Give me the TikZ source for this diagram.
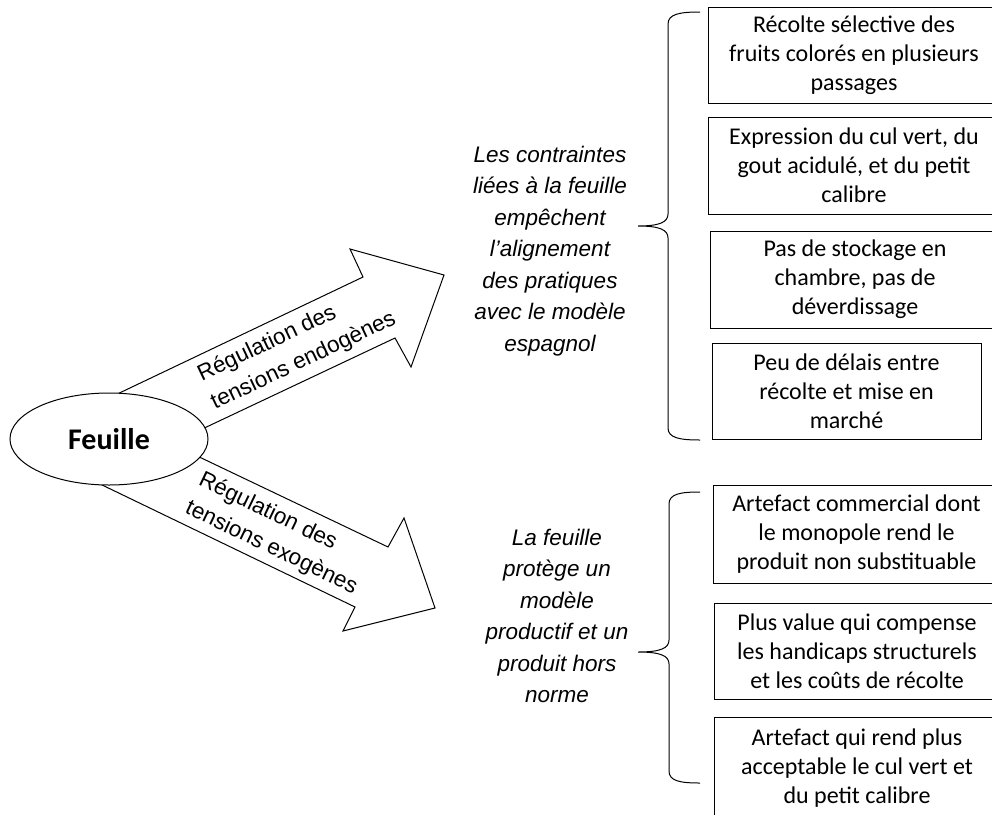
\documentclass[tikz,border=0pt]{standalone}
\usepackage{fontspec}
\usetikzlibrary{shapes.geometric}
\setmainfont{Carlito}
\newfontfamily\arialfont{Liberation Sans}
\begin{document}
\begin{tikzpicture}[x=1pt,y=-1pt, line width=1pt,
  box/.style={draw, rectangle, inner sep=0pt, align=center, font=\fontsize{24}{29}\selectfont},
  midtext/.style={align=center, inner sep=0pt, font=\arialfont\itshape\fontsize{22.5}{31.5}\selectfont},
  arrowtext/.style={align=left, inner sep=0pt, font=\arialfont\fontsize{22.5}{31}\selectfont},
  bigarrow/.style={draw, fill=white, line join=miter},
  bracestyle/.style={draw, line width=1pt}]
\clip (0,0) rectangle (992,814);
\fill[white] (0,0) rectangle (992,814);

% big arrows
\draw[bigarrow] (111,397) -- (363,277) -- (350,249) -- (444,275) -- (411,367) -- (395,338) -- (198,431) -- cycle;
\draw[bigarrow] (193,454) -- (388,547) -- (404,518) -- (435,608) -- (343,631) -- (355,607) -- (98,483) -- cycle;

% central ellipse
\node[draw, fill=white, ellipse, minimum width=198pt, minimum height=92pt, inner sep=0pt,
      font=\bfseries\fontsize{30}{36}\selectfont] (feuille) at (109,439) {Feuille};

% arrow labels
\node[arrowtext, rotate=25.4] (endo) at (297,347) {Régulation des\\tensions endogènes};
\node[arrowtext, rotate=-25.6] (exo) at (278,534) {Régulation des\\tensions exogènes};

% middle texts
\node[midtext] (m1) at (550,251) {Les contraintes\\liées à la feuille\\empêchent\\l’alignement\\des pratiques\\avec le modèle\\espagnol};
\node[midtext] (m2) at (557,616) {La feuille\\protège un\\modèle\\productif et un\\produit hors\\norme};

% boxes
\node[box, minimum width=292pt, minimum height=96pt] (b1) at (854,55) {Récolte sélective des\\fruits colorés en plusieurs\\passages};
\node[box, minimum width=292pt, minimum height=97pt] (b2) at (854,165.5) {Expression du cul vert, du\\gout acidulé, et du petit\\calibre};
\node[box, minimum width=290pt, minimum height=97pt] (b3) at (855,279.5) {Pas de stockage en\\chambre, pas de\\déverdissage};
\node[box, minimum width=269pt, minimum height=96pt] (b4) at (846.5,391) {Peu de délais entre\\récolte et mise en\\marché};
\node[box, minimum width=287pt, minimum height=98pt] (b5) at (856.5,534) {Artefact commercial dont\\le monopole rend le\\produit non substituable};
\node[box, minimum width=286pt, minimum height=96pt] (b6) at (857,651) {Plus value qui compense\\les handicaps structurels\\et les coûts de récolte};
\node[box, minimum width=286pt, minimum height=102pt] (b7) at (857,768) {Artefact qui rend plus\\acceptable le cul vert et\\du petit calibre};

% braces
\coordinate (t1) at (638,226);
\coordinate (t2) at (638,652);
\draw[bracestyle] (700,12) .. controls (680,12) and (668,14) .. (668,24) -- (668,214)
  .. controls (668,222) and (660,226) .. (t1)
  .. controls (660,226) and (668,230) .. (668,238) -- (668,428)
  .. controls (668,438) and (680,440) .. (700,440);
\draw[bracestyle] (700,492) .. controls (680,492) and (669,494) .. (669,504) -- (669,640)
  .. controls (669,648) and (661,652) .. (t2)
  .. controls (661,652) and (669,656) .. (669,664) -- (669,771)
  .. controls (669,781) and (680,783) .. (700,783);
\end{tikzpicture}
\end{document}
